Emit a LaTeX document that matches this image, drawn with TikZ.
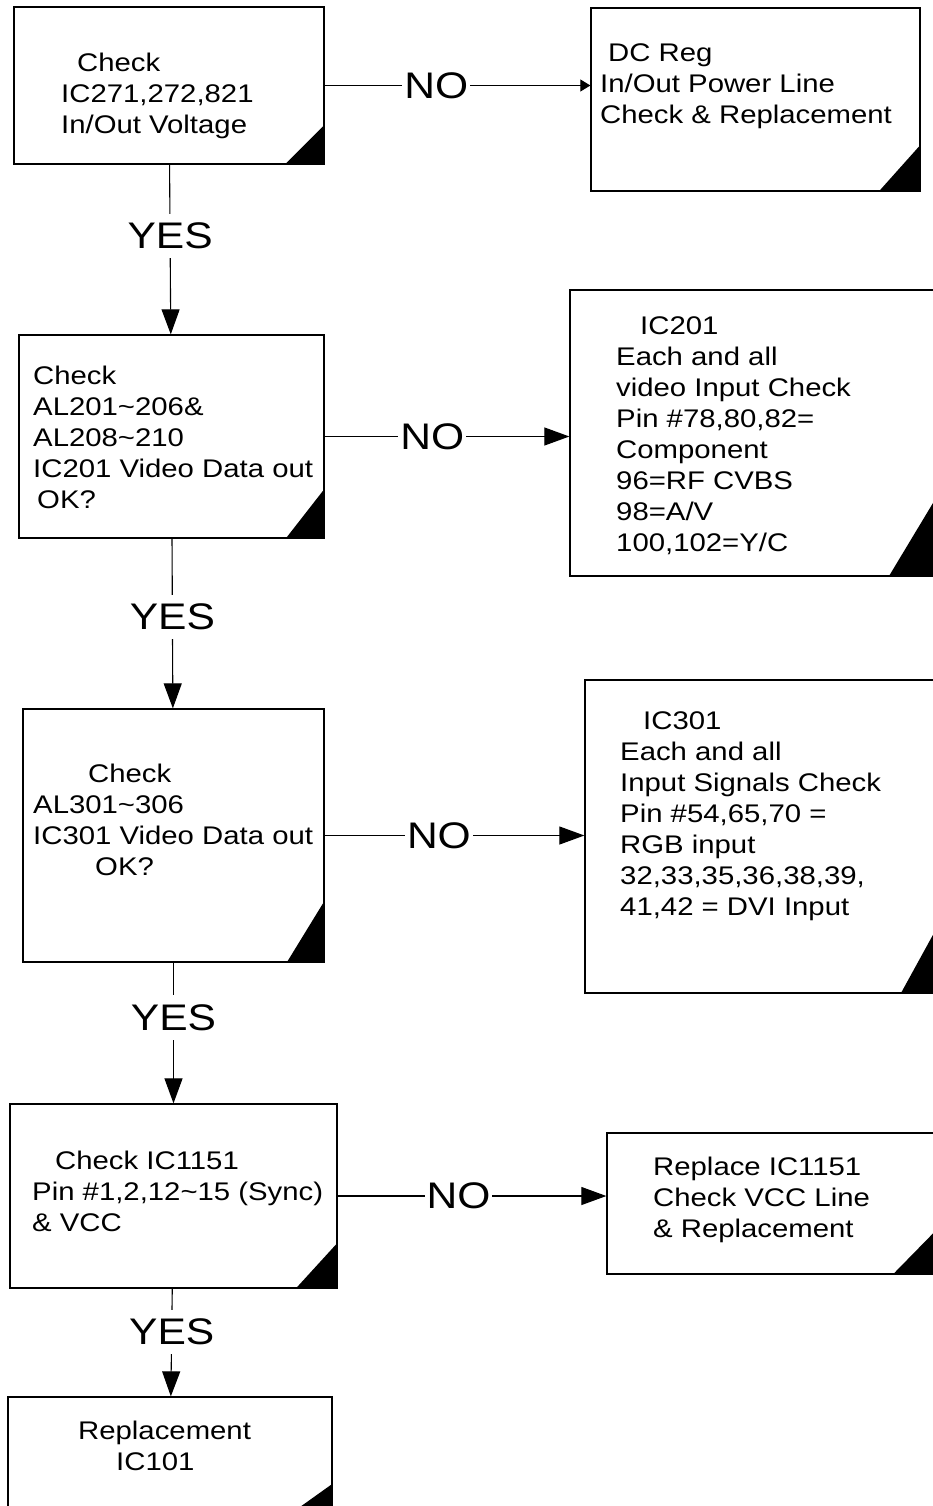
\documentclass[tikz,border=0pt]{standalone}
\usepackage{fontspec}
\setmainfont{Liberation Sans}[FakeStretch=1.15]
\usepackage{tikz}
\usetikzlibrary{arrows.meta}

\begin{document}
\begin{tikzpicture}[x=1pt,y=-1pt,
	box/.style 2 args={draw,line width=1.3pt,inner sep=0pt,
		minimum width=#1,minimum height=#2},
	txt/.style={anchor=north west,inner sep=0pt,align=left,
		font=\fontsize{25.5}{31}\selectfont},
	tag/.style={fill=white,inner xsep=2pt,inner ysep=9pt,
		font=\fontsize{37}{40}\selectfont},
	flow/.style={line width=1.1pt,-{Triangle[length=25pt,width=18pt]}}]
			\useasboundingbox (0,0) rectangle (933,1506);
			% boxes
			\node[box={310pt}{157pt}] (ChkV) at (169,85.5) {};
			\node[box={329pt}{183pt}] (DCR) at (755.5,99.5) {};
			\node[box={305pt}{203pt}] (ChkA) at (171.5,436.5) {};
			\node[box={380pt}{286pt}] (InA) at (760,433) {};
			\node[box={301pt}{253pt}] (ChkB) at (173.5,835.5) {};
			\node[box={365pt}{313pt}] (InB) at (767.5,836.5) {};
			\node[box={327pt}{184pt}] (ChkS) at (173.5,1196) {};
			\node[box={330pt}{141pt}] (RepS) at (772,1203.5) {};
			\node[box={324pt}{126pt}] (RepM) at (170,1460) {};
			%
			\foreach \b/\w/\h in {ChkV/40/40,DCR/42/47,ChkA/39/50,InA/62/103,
				ChkB/38/62,InB/50/91,ChkS/42/46,RepS/45/46,RepM/56/40}
				\fill (\b.south east) -- ++(-\w,0) -- ++(\w,-\h) -- cycle;
			% texts
			\node[txt] (ChkVt) at (61,53) {\hspace*{16pt}Check\\
				IC271,272,821\\In/Out Voltage};
			\node[txt] (DCRt) at (600,43) {\hspace*{8pt}DC Reg\\
				In/Out Power Line\\Check \& Replacement};
			\node[txt] (ChkAt) at (33,366) {Check\\
				AL201\textasciitilde206\&\\AL208\textasciitilde210\\
				IC201 Video Data out\\\hspace*{4pt}OK?};
			\node[txt] (InAt) at (616,316) {\hspace*{24pt}IC201\\
				Each and all\\video Input Check\\Pin \#78,80,82=\\
				Component\\96=RF CVBS\\98=A/V\\100,102=Y/C};
			\node[txt] (ChkBt) at (33,764) {\hspace*{55pt}Check\\
				AL301\textasciitilde306\\IC301 Video Data out\\
				\hspace*{62pt}OK?};
			\node[txt] (InBt) at (620,711) {\hspace*{23pt}IC301\\
				Each and all\\Input Signals Check\\Pin \#54,65,70 =\\
				RGB input\\32,33,35,36,38,39,\\41,42 = DVI Input};
			\node[txt] (ChkSt) at (32,1151) {\hspace*{23pt}Check IC1151\\
				Pin \#1,2,12\textasciitilde15 (Sync)\\\& VCC};
			\node[txt] (RepSt) at (653,1157) {Replace IC1151\\
				Check VCC Line\\\& Replacement};
			\node[txt] (RepMt) at (78,1421) {Replacement\\
				\hspace*{38pt}IC101};
			%
			\draw[flow,-{Triangle[length=10pt,width=12pt]}]
				(ChkV.east) -- node[pos=.42,tag]{NO} (ChkV.east -| DCR.west);
			\draw[flow] (ChkA.east) -- node[pos=.44,tag]{NO} (ChkA.east -| InA.west);
			\draw[flow] (ChkB.east) -- node[pos=.44,tag]{NO} (ChkB.east -| InB.west);
			\draw[flow] (ChkS.east) -- node[pos=.45,tag]{NO} (ChkS.east -| RepS.west);
			%
			\draw[flow] (ChkV) -- node[pos=.42,tag]{YES} (ChkA);
			\draw[flow] (ChkA) -- node[pos=.46,tag]{YES} (ChkB);
			\draw[flow] (ChkB) -- node[pos=.39,tag]{YES} (ChkS);
			\draw[flow] (ChkS) -- node[pos=.40,tag]{YES} (RepM);
		\end{tikzpicture}
\end{document}
